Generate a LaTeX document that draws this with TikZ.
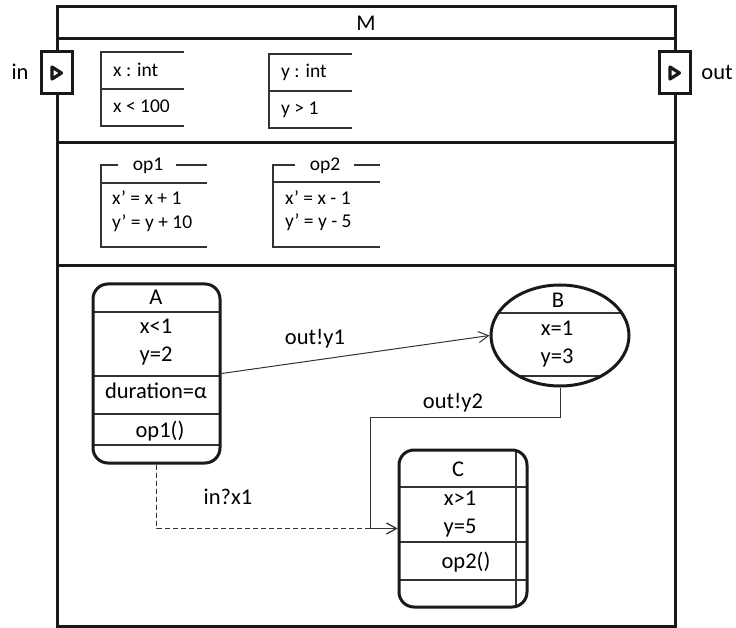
\documentclass[tikz,border=0pt]{standalone}
\usepackage{fontspec}
\setmainfont{Carlito}
\usetikzlibrary{arrows.meta,shapes.geometric}
\begin{document}
\begin{tikzpicture}[x=1pt,y=-1pt,
  frameline/.style={line width=3pt, black!90},
  thinline/.style={line width=1.3pt, black!80},
  statebox/.style={draw=black!90, line width=3pt, rounded corners=15pt, inner sep=0pt},
  stateell/.style={draw=black!90, line width=3pt, ellipse, inner sep=0pt},
  port/.style={draw=black!90, fill=white, line width=3pt, minimum width=31pt, minimum height=42pt, inner sep=0pt},
  tri/.style={line width=3.2pt, line join=round, black!90},
  bigtxt/.style={font=\fontsize{22.5}{26}\selectfont, inner sep=0pt, anchor=base},
  smalltxt/.style={font=\fontsize{19.5}{23}\selectfont, inner sep=0pt, anchor=base west},
  optitle/.style={font=\fontsize{19.5}{23}\selectfont, inner sep=0pt, anchor=base},
  arr/.style={line width=1pt, black!80, -{Straight Barb[length=10pt,width=11pt,line width=1pt]}},
  dasharr/.style={arr, dash pattern=on 5pt off 3pt}
]
\useasboundingbox (0,0) rectangle (736,628);
% main frame
\draw[frameline] (57,7) rectangle (675,626);
\draw[frameline] (57,39) -- (675,39);
\draw[frameline] (57,143) -- (675,143);
\draw[frameline] (57,266) -- (675,266);
\node[bigtxt] (M) at (366,31) {M};
% ports
\node[port] (inport) at (56.5,73) {};
\draw[tri] (52,67) -- (52,79) -- (61.5,73) -- cycle;
\node[bigtxt] (inlbl) at (20,80) {in};
\node[port] (outport) at (674.5,73) {};
\draw[tri] (670,67) -- (670,79) -- (679.5,73) -- cycle;
\node[bigtxt] (outlbl) at (717,80) {out};
% variable boxes
\draw[thinline] (184,52) -- (101,52) -- (101,126) -- (184,126);
\draw[thinline] (101,89) -- (184,89);
\node[smalltxt] (xdecl) at (113,77) {x : int};
\node[smalltxt] (xinv) at (113,113) {x < 100};
\draw[thinline] (352,54) -- (269,54) -- (269,128) -- (352,128);
\draw[thinline] (269,91) -- (352,91);
\node[smalltxt] (ydecl) at (281,78) {y : int};
\node[smalltxt] (yinv) at (281,115) {y > 1};
% operation boxes
\draw[thinline] (118,165) -- (101,165) -- (101,247) -- (207,247);
\draw[thinline] (176,165) -- (207,165);
\draw[thinline] (101,183) -- (207,183);
\node[optitle] (op1t) at (148,171) {op1};
\node[smalltxt] (op1a) at (112,205) {x’ = x + 1};
\node[smalltxt] (op1b) at (112,229) {y’ = y + 10};
\draw[thinline] (295,165) -- (273,165) -- (273,247) -- (380,247);
\draw[thinline] (354,165) -- (380,165);
\draw[thinline] (273,182) -- (380,182);
\node[optitle] (op2t) at (325,171) {op2};
\node[smalltxt] (op2a) at (285,205) {x’ = x - 1};
\node[smalltxt] (op2b) at (285,228) {y’ = y - 5};
% state A
\draw[thinline] (93,312) -- (220,312);
\draw[thinline] (93,376) -- (220,376);
\draw[thinline] (93,414) -- (220,414);
\draw[thinline] (93,445) -- (220,445);
\node[statebox, minimum width=127pt, minimum height=179pt] (A) at (156.5,373.5) {};
\node[bigtxt] (Aname) at (156,305) {A};
\node[bigtxt] (Ainv1) at (156,333) {x<1};
\node[bigtxt] (Ainv2) at (156,361) {y=2};
\node[bigtxt] (Adur) at (156,398) {duration=α};
\node[bigtxt] (Aop) at (160,437) {op1()};
% state B
\begin{scope}
\clip (560,335.5) ellipse [x radius=69pt, y radius=50.5pt];
\draw[thinline] (480,313) -- (640,313);
\draw[thinline] (480,376) -- (640,376);
\end{scope}
\node[stateell, minimum width=138pt, minimum height=101pt] (B) at (560,335.5) {};
\node[bigtxt] (Bname) at (558,307) {B};
\node[bigtxt] (Binv1) at (557,335) {x=1};
\node[bigtxt] (Binv2) at (557,363) {y=3};
% state C
\draw[thinline] (399,487) -- (527,487);
\draw[thinline] (399,542) -- (527,542);
\draw[thinline] (399,580) -- (527,580);
\draw[thinline] (516,451) -- (516,606);
\node[statebox, minimum width=128pt, minimum height=157pt] (C) at (463,528.5) {};
\node[bigtxt] (Cname) at (458,476) {C};
\node[bigtxt] (Cinv1) at (460,505) {x>1};
\node[bigtxt] (Cinv2) at (460,533) {y=5};
\node[bigtxt] (Cop) at (466,568) {op2()};
% transitions
\draw[arr] (A.east) -- (B.west);
\node[bigtxt] (t1) at (315,344) {out!y1};
\draw[arr] (B.south) |- (370,417) |- (C.west);
\node[bigtxt] (t2) at (453,408) {out!y2};
\draw[dasharr] (A.south) |- (C.west);
\node[bigtxt] (t3) at (228,504) {in?x1};
\end{tikzpicture}
\end{document}
